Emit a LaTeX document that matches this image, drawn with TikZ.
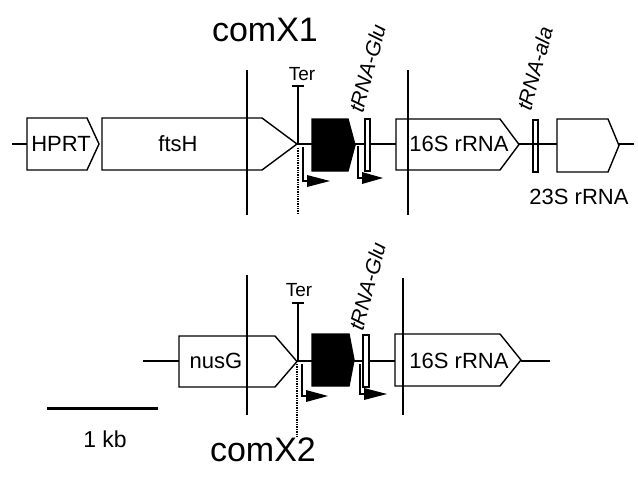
\documentclass[tikz,border=0pt]{standalone}
\usepackage{fontspec}
\setmainfont{Liberation Sans}
\begin{document}
\begin{tikzpicture}[x=1pt,y=-1pt,
  ln/.style={line width=1.4pt},
  lbl/.style={font=\fontsize{22}{25}\selectfont, inner sep=0pt},
  big/.style={font=\fontsize{34}{38}\selectfont, inner sep=0pt},
  ter/.style={font=\fontsize{19}{22}\selectfont, inner sep=0pt},
  rot/.style={font=\fontsize{21}{24}\selectfont\itshape, inner sep=0pt, rotate=75, anchor=west},
]
\useasboundingbox (0,0) rectangle (638,479);
\newcommand\genebox[6][]{%
  \draw[ln,#1] (#2,#5) -- (#3,#5) -- (#4,{(#5+#6)/2}) -- (#3,#6) -- (#2,#6) -- cycle;}
\newcommand\bentarrow[4]{% x, ytop, ybottom, tipx
  \draw[ln] (#1,#2) -- (#1,#3) -- (#1+4,#3);
  \fill (#1+4,#3-6) -- (#4,#3) -- (#1+4,#3+6) -- cycle;}

% ---------- top row (comX1), axis y=144 ----------
\node[big] (t1) at (265,30) {comX1};
\draw[ln] (12,144) -- (27,144);
\genebox{27}{87}{99}{118}{170}
\node[lbl] (hprt) at (61,144) {HPRT};
\genebox{102}{262}{297}{118}{170}
\node[lbl] (ftsh) at (178,144) {ftsH};
\draw[ln] (297,144) -- (312,144);
\genebox[fill=black]{312}{348}{355}{119}{171}
\draw[ln] (355,144) -- (396,144);
\draw[ln,fill=white] (365,119) rectangle (370,171);
\genebox{396}{500}{519}{119}{170}
\node[lbl] (s16a) at (459,144) {16S rRNA};
\draw[ln] (519,144) -- (557,144);
\draw[ln] (533,120) rectangle (538,172);
\genebox{557}{608}{619}{119}{172}
\draw[ln] (619,144) -- (634,144);
\node[lbl] (s23) at (579,197) {23S rRNA};
\draw[ln] (247,70) -- (247,215);
\draw[ln] (408,70) -- (408,215);
\draw[ln] (298,86) -- (298,144);
\draw[ln] (292,86) -- (304,86);
\node[ter] (tera) at (302,74) {Ter};
\draw[ln,densely dotted] (298,148) -- (298,213);
\bentarrow{303}{147}{181}{330}
\bentarrow{358}{146}{178}{383}
\node[rot] (glua) at (356,112) {tRNA-Glu};
\node[rot] (ala) at (524,110) {tRNA-ala};

% ---------- bottom row (comX2), axis y=361 ----------
\draw[ln] (143,361) -- (179,361);
\genebox{179}{275}{297}{336}{387}
\node[lbl] (nusg) at (216,361) {nusG};
\draw[ln] (297,361) -- (312,361);
\genebox[fill=black]{312}{349}{354}{334}{386}
\draw[ln] (354,361) -- (395,361);
\draw[ln,fill=white] (363,335) rectangle (369,387);
\genebox{395}{500}{521}{334}{386}
\node[lbl] (s16b) at (459,361) {16S rRNA};
\draw[ln] (521,361) -- (550,361);
\draw[ln] (247,275) -- (247,415);
\draw[ln] (403,278) -- (403,415);
\draw[ln] (298,303) -- (298,361);
\draw[ln] (292,303) -- (304,303);
\node[ter] (terb) at (299,290) {Ter};
\draw[ln,densely dotted] (297,364) -- (297,437);
\bentarrow{302}{364}{396}{328}
\bentarrow{360}{364}{394}{387}
\node[rot] (glub) at (356,330) {tRNA-Glu};

% scale bar and bottom labels
\draw[line width=3pt] (47,408) -- (158,408);
\node[lbl,font=\fontsize{23}{26}\selectfont] (kb) at (105,439) {1 kb};
\node[big] (t2) at (263,450) {comX2};
\end{tikzpicture}
\end{document}
